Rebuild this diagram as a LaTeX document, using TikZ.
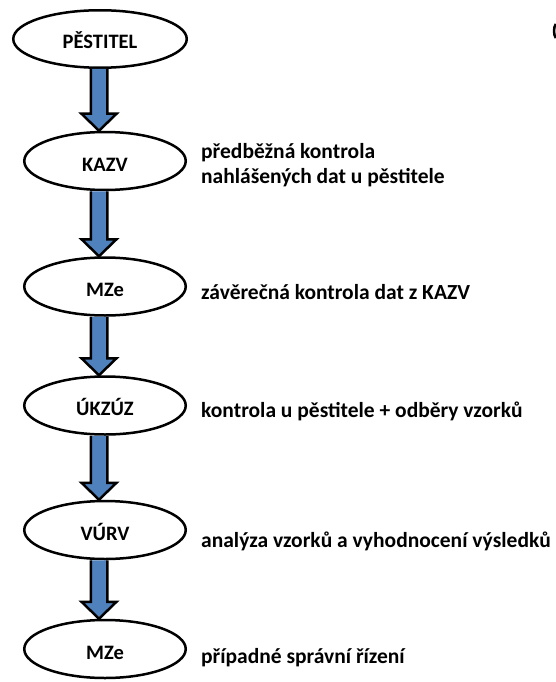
\documentclass[tikz,border=0pt]{standalone}
\usepackage{fontspec}
\setmainfont{Carlito}
\usetikzlibrary{shapes.geometric,calc}
\definecolor{arrowblue}{HTML}{4F81BD}
\newcommand\flowarrow[2]{%
  \filldraw[flow] let \p1=(#1.south -| col), \p2=(#2.north -| col) in
    (\x1-8.25pt,\y1) -- (\x1-8.25pt,\y2+17pt) -- (\x1-17.5pt,\y2+17pt) -- (\x2,\y2)
    -- (\x1+17.5pt,\y2+17pt) -- (\x1+8.25pt,\y2+17pt) -- (\x1+8.25pt,\y1);}
\begin{document}
\begin{tikzpicture}[x=1pt,y=-1pt,
  stage/.style={ellipse,draw,line width=2.5pt,fill=white,inner sep=0pt,
    minimum width=161.5pt,minimum height=58pt,
    font=\fontsize{20.5}{24}\selectfont\bfseries,text height=20pt,text depth=0pt},
  note/.style={anchor=base west,inner sep=0pt,
    font=\fontsize{21.5}{25}\selectfont\bfseries,align=left},
  flow/.style={draw=black,fill=arrowblue,line width=2.5pt,line join=miter}]
\useasboundingbox (0,0) rectangle (555,682);
\coordinate (col) at (99,0);
\node[stage,minimum width=173.5pt,minimum height=57.5pt] (p) at (100,39) {PĚSTITEL};
\node[stage] (k) at (105,161) {KAZV};
\node[stage] (m1) at (105,286.5) {MZe};
\node[stage] (u) at (105,405.5) {ÚKZÚZ};
\node[stage] (v) at (105,530) {VÚRV};
\node[stage] (m2) at (105,649) {MZe};
\flowarrow{p}{k}
\flowarrow{k}{m1}
\flowarrow{m1}{u}
\flowarrow{u}{v}
\flowarrow{v}{m2}
\node[note] (nk) at (201,183) {předběžná kontrola\\nahlášených dat u pěstitele};
\node[note] (nm1) at (201,299) {závěrečná kontrola dat z KAZV};
\node[note] (nu) at (201,417) {kontrola u pěstitele + odběry vzorků};
\node[note] (nv) at (201,547) {analýza vzorků a vyhodnocení výsledků};
\node[note] (nm2) at (201,663) {případné správní řízení};
\draw[line width=2.5pt] (555.76,38.07) arc[start angle=135,end angle=225,x radius=6,y radius=10];
\end{tikzpicture}
\end{document}
